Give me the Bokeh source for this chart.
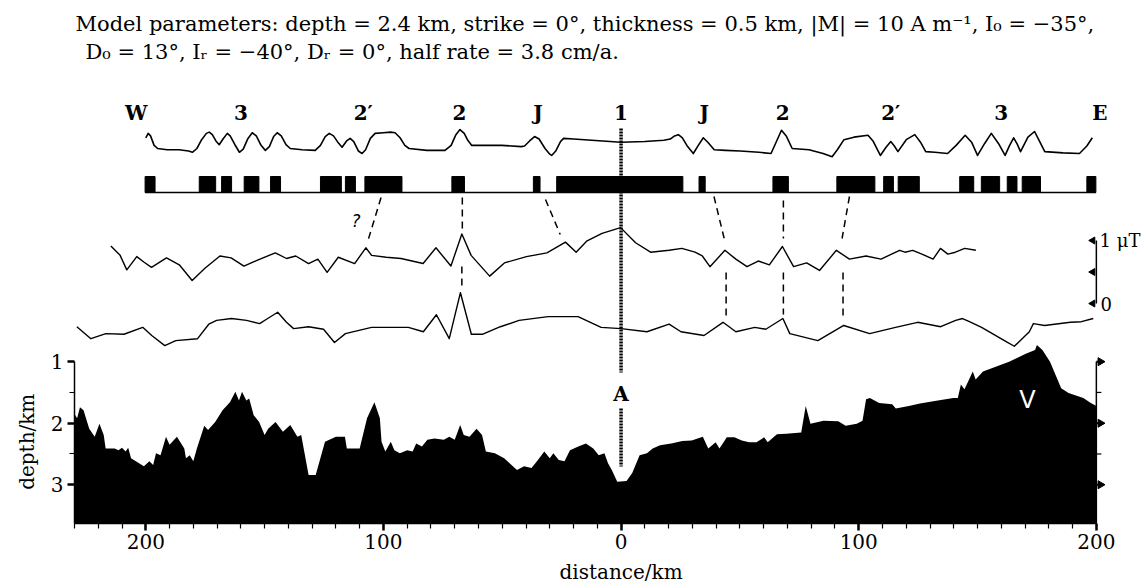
import math
from bokeh.plotting import figure
from bokeh.models import Range1d, LinearAxis, FixedTicker, Label
from bokeh.embed import file_html
from bokeh.resources import INLINE

# ---------------- data ----------------
# top labels (anomaly numbers), km from ridge axis (west negative)
anomaly_labels = ["W", "3", "2\u2032", "2", "J", "1", "J", "2", "2\u2032", "3", "E"]
anomaly_km = [-204, -160, -108.5, -68, -35, 0, 35, 68, 113.5, 160, 201.5]

# model anomaly profile (uT)
model_km = [-200.0, -199.0, -198.0, -196.5, -195.0, -191.0, -186.0, -182.0, -180.4, -178.5,
            -176.5, -174.5, -173.3, -172.0, -170.5, -169.1, -167.5, -165.7, -164.5, -162.5,
            -160.6, -159.0, -157.0, -155.2, -153.5, -151.5, -149.7, -148.0, -146.2, -144.7,
            -143.0, -141.0, -139.2, -134.2, -128.7, -126.5, -124.5, -122.8, -121.0, -119.0,
            -117.4, -115.5, -114.0, -112.5, -110.5, -109.0, -107.5, -105.5, -103.5, -100.0,
            -97.0, -95.1, -93.0, -91.0, -89.2, -81.7, -74.1, -71.5, -69.5, -67.8,
            -66.0, -64.5, -62.9, -56.0, -50.2, -42.0, -40.6, -38.5, -36.4, -34.5,
            -32.0, -30.0, -29.2, -27.5, -25.5, -24.2, -20.0, -12.4, 0.0, 10.0,
            18.0, 20.7, 22.5, 24.1, 25.8, 28.0, 30.4, 32.5, 34.6, 36.5,
            39.2, 44.0, 50.1, 58.0, 63.1, 65.0, 67.5, 69.5, 72.0, 79.1,
            85.0, 88.8, 91.0, 93.8, 98.0, 103.9, 106.0, 109.1, 111.5, 113.5,
            115.0, 116.5, 120.0, 123.6, 126.0, 128.2, 132.0, 137.4, 141.0, 144.8,
            147.5, 150.0, 153.0, 155.8, 158.8, 161.6, 163.5, 165.2, 166.7, 168.1,
            171.2, 174.0, 176.0, 178.3, 186.0, 192.9, 196.0, 198.3]
model_ut = [0.17, 0.24, 0.20, 0.05, 0.00, -0.02, -0.02, -0.04, -0.06, 0.00,
            0.14, 0.24, 0.26, 0.22, 0.12, 0.06, 0.15, 0.24, 0.20, 0.06,
            -0.06, -0.01, 0.16, 0.25, 0.20, 0.05, -0.03, 0.03, 0.19, 0.25,
            0.20, 0.06, 0.00, -0.02, -0.03, 0.05, 0.19, 0.24, 0.20, 0.09,
            0.02, 0.12, 0.16, 0.11, -0.04, -0.08, -0.02, 0.16, 0.24, 0.25,
            0.26, 0.25, 0.17, 0.05, 0.00, -0.03, -0.03, 0.05, 0.22, 0.30,
            0.24, 0.13, 0.05, 0.05, 0.05, 0.03, 0.04, 0.12, 0.19, 0.15,
            0.00, -0.09, -0.11, -0.04, 0.11, 0.16, 0.15, 0.13, 0.10, 0.11,
            0.13, 0.15, 0.20, 0.22, 0.17, 0.03, -0.08, 0.05, 0.17, 0.10,
            -0.02, -0.03, -0.04, -0.06, -0.08, 0.08, 0.29, 0.20, 0.00, -0.02,
            -0.08, -0.13, -0.02, 0.14, 0.18, 0.21, 0.12, -0.11, 0.02, 0.11,
            0.04, -0.05, 0.14, 0.22, 0.10, -0.05, -0.06, -0.08, 0.05, 0.21,
            0.10, -0.11, 0.08, 0.24, 0.08, -0.11, 0.05, 0.17, 0.07, -0.05,
            0.18, 0.27, 0.12, -0.05, -0.07, -0.08, 0.04, 0.17]

# normally magnetised blocks (km)
block_start = [-200.3, -177.5, -168.1, -158.6, -147.5, -126.5, -116.0, -107.8, -71.2, -36.9,
               -27.1, 32.8, 63.9, 90.8, 110.5, 116.6, 142.5, 151.6, 162.5, 168.8, 196.0]
block_end = [-196.1, -170.6, -163.9, -152.4, -143.3, -117.7, -111.8, -92.2, -65.9, -34.1,
             26.0, 35.4, 70.4, 106.8, 114.6, 125.5, 148.4, 159.3, 166.6, 176.5, 199.8]

# observed profile 1 (uT, arbitrary zero)
obs1_km = [-214.7, -210.8, -208.0, -203.8, -200.7, -197.6, -191.3, -185.9, -180.5, -175.0,
           -168.8, -164.1, -158.7, -153.2, -145.5, -140.8, -136.9, -131.5, -127.6, -123.7,
           -119.0, -112.1, -107.4, -105.0, -98.8, -92.6, -83.3, -77.9, -71.6, -67.0,
           -63.1, -55.3, -49.1, -39.8, -31.2, -23.4, -18.9, -14.3, -8.0, -0.2,
           6.1, 12.4, 20.2, 25.6, 31.1, 34.2, 37.4, 43.7, 48.3, 53.0,
           57.7, 62.4, 67.9, 72.6, 78.1, 83.5, 90.6, 96.1, 103.1, 109.4,
           117.2, 119.5, 122.7, 126.6, 131.3, 134.4, 137.5, 140.7, 144.6, 149.3]
obs1_ut = [0.20, 0.05, -0.18, 0.03, -0.06, -0.14, 0.01, -0.10, -0.35, -0.15,
           0.04, 0.01, -0.12, -0.03, 0.09, 0.00, 0.04, -0.08, -0.01, -0.22,
           0.02, -0.08, 0.17, 0.05, 0.02, 0.00, -0.08, 0.17, -0.12, 0.39,
           0.05, -0.28, -0.07, 0.03, 0.09, 0.26, 0.10, 0.28, 0.40, 0.49,
           0.25, 0.10, 0.13, 0.16, 0.10, 0.04, -0.13, 0.13, -0.01, -0.13,
           -0.04, -0.10, 0.19, -0.13, -0.07, -0.19, 0.13, -0.01, 0.04, -0.01,
           0.13, 0.10, 0.13, 0.07, -0.01, 0.16, 0.07, 0.10, 0.16, 0.13]

# observed profile 2 (uT, arbitrary zero)
obs2_km = [-229.0, -223.1, -216.8, -209.2, -201.3, -197.5, -192.0, -187.4, -178.2, -173.5,
           -170.2, -163.9, -157.6, -152.1, -148.7, -144.5, -140.8, -137.8, -131.5, -125.2,
           -120.6, -116.0, -105.0, -89.5, -83.2, -77.7, -72.3, -67.6, -63.0, -58.4,
           -50.8, -42.9, -30.7, -18.1, -8.4, 0.0, 10.9, 20.2, 25.2, 34.9,
           42.9, 48.3, 56.3, 60.9, 68.1, 71.0, 82.8, 93.7, 104.6, 115.5,
           124.8, 134.5, 140.8, 143.7, 146.6, 151.7, 162.6, 165.5, 171.8, 173.5,
           178.2, 189.1, 193.7, 198.7]
obs2_ut = [0.06, -0.13, -0.05, -0.06, 0.05, -0.08, -0.24, -0.16, -0.13, 0.10,
           0.16, 0.19, 0.16, 0.11, 0.19, 0.29, 0.13, 0.03, 0.06, 0.02,
           -0.19, -0.05, 0.05, 0.05, -0.02, 0.25, -0.13, 0.60, -0.06, -0.06,
           0.06, 0.16, 0.22, 0.22, 0.05, 0.03, -0.02, 0.10, -0.02, -0.08,
           0.13, -0.02, 0.05, 0.02, 0.19, -0.05, -0.16, 0.08, -0.05, 0.05,
           0.13, 0.06, 0.16, 0.19, 0.14, 0.05, -0.19, -0.25, -0.02, 0.11,
           0.08, 0.13, 0.14, 0.19]

# bathymetry (depth km)
bathy_km = [-230.0, -228.9, -227.7, -226.2, -223.8, -221.5, -219.5, -217.7, -216.9, -213.1,
            -211.5, -210.0, -208.5, -207.4, -206.2, -200.8, -198.5, -196.9, -195.7, -193.8,
            -191.5, -190.0, -186.9, -183.8, -183.1, -181.5, -180.0, -178.5, -175.4, -173.8,
            -170.8, -167.7, -164.6, -162.3, -160.8, -159.5, -157.7, -156.5, -154.6, -152.3,
            -150.0, -148.5, -145.4, -142.3, -139.2, -136.2, -134.6, -131.5, -128.5, -124.6,
            -120.0, -116.2, -115.4, -110.0, -106.9, -103.8, -101.5, -100.8, -99.2, -96.9,
            -95.4, -93.1, -90.0, -87.7, -86.2, -83.8, -81.5, -78.5, -74.6, -72.3,
            -70.0, -67.7, -66.2, -63.8, -60.8, -58.5, -56.9, -53.1, -49.2, -46.9,
            -43.8, -40.8, -37.7, -35.4, -32.3, -30.0, -28.5, -26.2, -23.8, -21.5,
            -18.0, -14.8, -11.7, -9.4, -7.0, -5.5, -3.9, -1.6, 2.3, 4.7,
            7.8, 10.9, 13.3, 16.4, 21.1, 25.8, 29.7, 34.4, 36.7, 39.8,
            41.4, 44.5, 47.7, 50.8, 53.9, 57.0, 60.2, 61.7, 65.6, 69.5,
            75.8, 77.7, 79.7, 85.2, 91.4, 94.5, 99.2, 101.6, 103.1, 104.7,
            108.6, 114.1, 115.6, 121.1, 125.8, 132.0, 139.8, 141.7, 143.0, 144.5,
            146.1, 148.0, 149.2, 152.3, 163.3, 170.3, 174.2, 175.0, 177.3, 180.5,
            185.2, 188.3, 194.5, 197.7, 200.0]
bathy_depth = [1.85, 1.92, 1.74, 1.79, 2.09, 2.22, 2.01, 2.19, 2.41, 2.41,
               2.44, 2.40, 2.46, 2.40, 2.57, 2.70, 2.62, 2.68, 2.49, 2.52,
               2.22, 2.35, 2.22, 2.41, 2.57, 2.52, 2.62, 2.41, 2.04, 2.11,
               1.98, 1.79, 1.66, 1.49, 1.63, 1.49, 1.63, 1.60, 1.87, 1.98,
               2.19, 2.09, 1.98, 2.14, 2.03, 2.22, 2.19, 2.84, 2.84, 2.30,
               2.22, 2.22, 2.41, 2.41, 1.92, 1.66, 1.92, 2.30, 2.46, 2.30,
               2.44, 2.49, 2.44, 2.46, 2.33, 2.38, 2.27, 2.25, 2.27, 2.22,
               2.27, 2.03, 2.19, 2.22, 2.09, 2.19, 2.46, 2.49, 2.57, 2.65,
               2.76, 2.70, 2.73, 2.62, 2.46, 2.57, 2.49, 2.60, 2.62, 2.44,
               2.38, 2.33, 2.41, 2.52, 2.49, 2.65, 2.76, 2.95, 2.94, 2.81,
               2.52, 2.49, 2.41, 2.36, 2.33, 2.29, 2.28, 2.22, 2.41, 2.31,
               2.41, 2.23, 2.23, 2.28, 2.31, 2.31, 2.23, 2.31, 2.18, 2.17,
               2.15, 1.72, 2.01, 1.96, 1.97, 2.04, 2.01, 1.96, 1.61, 1.59,
               1.67, 1.69, 1.76, 1.72, 1.68, 1.64, 1.59, 1.59, 1.37, 1.45,
               1.32, 1.16, 1.29, 1.16, 1.00, 0.87, 0.81, 0.73, 0.81, 1.00,
               1.43, 1.51, 1.59, 1.67, 1.72]

# dashed correlation lines (km at top / bottom; vertical extent in page rows)
dash_x0 = [-101.0, -66.8, -31.8, 39.1, 68.3, 96.1, -67.0, 44.2, 68.3, 93.4]
dash_x1 = [-106.5, -66.8, -25.6, 43.8, 68.3, 93.0, -67.0, 44.2, 68.3, 93.4]
dash_y0 = [197, 197, 199, 196, 200, 196, 266, 272, 272, 272]
dash_y1 = [240, 229, 234, 242, 238, 238, 290, 318, 314, 318]

ridge_km = 0
depth_ticks = [1, 2, 3]
depth_minor = [1.5, 2.5]
distance_ticks = [-200, -100, 0, 100, 200]
distance_labels = {-200: "200", -100: "100", 0: "0", 100: "100", 200: "200"}
scale_ticks = [0, 0.5, 1]

title1 = ("Model parameters: depth = 2.4 km, strike = 0\u00b0, thickness = 0.5 km, "
          "|M| = 10 A m\u207b\u00b9, I\u2080 = \u221235\u00b0,")
title2 = "D\u2080 = 13\u00b0, I\u1d63 = \u221240\u00b0, D\u1d63 = 0\u00b0, half rate = 3.8 cm/a."

SERIF = "DejaVu Serif"
DEPTH_BOTTOM = 3.63
DEPTH_LABEL_AT = 1.52
PX_PER_KM = 1071 / 450.26

# ---------------- figure ----------------
p = figure(width=1144, height=586, output_backend="svg", toolbar_location=None,
           x_range=Range1d(-230, 220.26), y_range=Range1d(DEPTH_BOTTOM, -4.87),
           x_axis_location=None, y_axis_location=None,
           min_border_left=73, min_border_right=0, min_border_top=0, min_border_bottom=63)
p.outline_line_color = None
p.background_fill_color = "white"
p.border_fill_color = "white"
p.xgrid.visible = False
p.ygrid.visible = False

p.extra_x_ranges = {"pxx": Range1d(73, 1144)}
p.extra_y_ranges = {
    "px": Range1d(523, 0),
    "model": Range1d(-(523 - 148) / 63, 148 / 63),
    "blk": Range1d(-(523 - 192) / 16, 192 / 16),
    "obs1": Range1d(-(523 - 258) / 63, 258 / 63),
    "obs2": Range1d(-(523 - 330) / 63, 330 / 63),
    "scale": Range1d(-(523 - 303) / 63, 303 / 63),
}


def style_axis(ax):
    ax.axis_line_width = 1.5
    ax.major_tick_line_width = 2.5
    ax.minor_tick_line_width = 1.2
    ax.major_tick_out = 7
    ax.major_tick_in = 0
    ax.minor_tick_out = 5
    ax.minor_tick_in = 0
    ax.major_label_text_font = SERIF
    ax.major_label_text_font_size = "20px"
    ax.major_label_text_color = "black"


def title_axis(ax):
    ax.axis_line_color = None
    ax.major_tick_line_color = None
    ax.minor_tick_line_color = None
    ax.major_label_text_font = SERIF
    ax.major_label_text_font_size = "20px"
    ax.major_label_text_color = "black"


# bottom distance axis + its title
xa = LinearAxis(ticker=FixedTicker(ticks=distance_ticks, minor_ticks=list(range(-230, 201, 10))),
                major_label_overrides=distance_labels, bounds=(-230, 200))
style_axis(xa)
xa.major_label_standoff = 3
xa2 = LinearAxis(ticker=FixedTicker(ticks=[0]), major_label_overrides={0: "distance/km"})
title_axis(xa2)
xa2.major_label_standoff = 2
p.add_layout(xa, "below")
p.add_layout(xa2, "below")

# left depth axis + its title
ya = LinearAxis(ticker=FixedTicker(ticks=depth_ticks, minor_ticks=depth_minor), bounds=(1, DEPTH_BOTTOM))
style_axis(ya)
ya.major_label_standoff = 4
ya2 = LinearAxis(ticker=FixedTicker(ticks=[DEPTH_LABEL_AT]),
                 major_label_overrides={DEPTH_LABEL_AT: "depth/km"},
                 major_label_orientation=math.pi / 2)
title_axis(ya2)
ya2.major_label_standoff = 14
p.add_layout(ya, "left")
p.add_layout(ya2, "left")

# right depth axis (drawn at x = 200 km)
xr = distance_ticks[-1]
tick_major = 7 / PX_PER_KM
tick_minor = 5 / PX_PER_KM
p.segment(x0=[xr], y0=[depth_ticks[0]], x1=[xr], y1=[DEPTH_BOTTOM], line_color="black", line_width=1.5)
p.segment(x0=[xr] * 3, y0=depth_ticks, x1=[xr + tick_major] * 3, y1=depth_ticks,
          line_color="black", line_width=2)
p.segment(x0=[xr] * 2, y0=depth_minor, x1=[xr + tick_minor] * 2, y1=depth_minor,
          line_color="black", line_width=1.2)
p.scatter(x=[xr + 1.7] * 3, y=depth_ticks, marker="triangle", angle=-math.pi / 2, size=8,
          fill_color="black", line_color="black")

# bathymetry
p.varea(x=bathy_km, y1=bathy_depth, y2=DEPTH_BOTTOM, fill_color="black")

# block model
p.quad(left=block_start, right=block_end, bottom=0, top=1, y_range_name="blk",
       fill_color="black", line_color="black")
p.segment(x0=[block_start[0]], y0=[0], x1=[block_end[-1]], y1=[0], y_range_name="blk",
          line_color="black", line_width=1.5)

# profiles
p.line(model_km, model_ut, y_range_name="model", line_color="black", line_width=1.6, line_join="round")
p.line(obs1_km, obs1_ut, y_range_name="obs1", line_color="black", line_width=1.4, line_join="round")
p.line(obs2_km, obs2_ut, y_range_name="obs2", line_color="black", line_width=1.4, line_join="round")

# correlation dashes
p.segment(x0=dash_x0, y0=dash_y0, x1=dash_x1, y1=dash_y1, y_range_name="px",
          line_color="black", line_width=1.5, line_dash="7 5")

# ridge axis dotted line
p.segment(x0=[ridge_km, ridge_km], y0=[128, 408], x1=[ridge_km, ridge_km], y1=[372, 466],
          y_range_name="px", line_color="black", line_width=3.5, line_dash="2 1")

# scale bar
p.segment(x0=[xr], y0=[scale_ticks[0]], x1=[xr], y1=[scale_ticks[-1]], y_range_name="scale",
          line_color="black", line_width=1.5)
p.scatter(x=[xr - 1.5] * 3, y=scale_ticks, y_range_name="scale", marker="triangle",
          angle=math.pi / 2, size=7, fill_color="black", line_color="black")

# labels
for lab, km in zip(anomaly_labels, anomaly_km):
    p.add_layout(Label(x=km, y=112, y_range_name="px", text=lab, text_font=SERIF,
                       text_font_style="bold", text_font_size="20px", text_align="center",
                       text_baseline="middle", text_color="black"))
p.add_layout(Label(x=74, y=23, x_range_name="pxx", y_range_name="px", text=title1,
                   text_font=SERIF, text_font_size="21px", text_baseline="middle", text_color="black"))
p.add_layout(Label(x=84, y=51, x_range_name="pxx", y_range_name="px", text=title2,
                   text_font=SERIF, text_font_size="21px", text_baseline="middle", text_color="black"))
p.add_layout(Label(x=ridge_km, y=393, y_range_name="px", text="A", text_font=SERIF,
                   text_font_style="bold", text_font_size="20px", text_align="center",
                   text_baseline="middle", text_color="black"))
p.add_layout(Label(x=-111.5, y=220, y_range_name="px", text="?", text_font="DejaVu Sans",
                   text_font_style="italic", text_font_size="17px", text_align="center",
                   text_baseline="middle", text_color="black"))
p.add_layout(Label(x=1099, y=scale_ticks[-1], x_range_name="pxx", y_range_name="scale", text="1 \u03bcT",
                   text_font=SERIF, text_font_size="18px", text_baseline="middle", text_color="black"))
p.add_layout(Label(x=1100, y=scale_ticks[0], x_range_name="pxx", y_range_name="scale", text="0",
                   text_font=SERIF, text_font_size="18px", text_baseline="middle", text_color="black"))
p.add_layout(Label(x=171, y=1.62, text="V", text_font="DejaVu Sans", text_font_size="24px",
                   text_align="center", text_baseline="middle", text_color="white"))

open("out.html", "w").write(file_html(p, INLINE))
